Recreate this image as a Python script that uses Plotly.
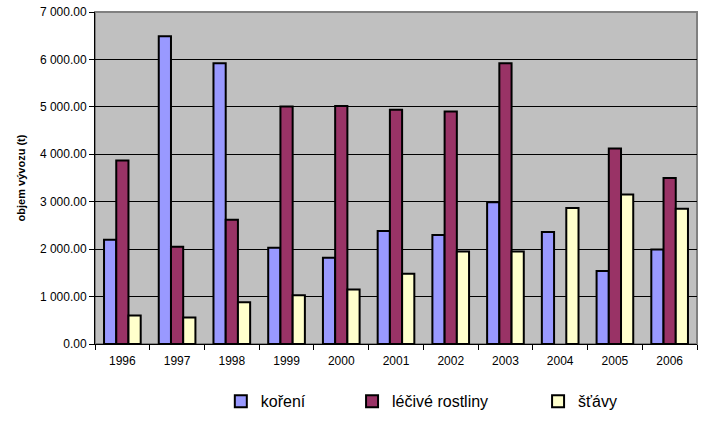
import plotly.graph_objects as go

# data
roky = ['1996', '1997', '1998', '1999', '2000', '2001', '2002', '2003', '2004', '2005', '2006']
koreni = [2200, 6490, 5920, 2030, 1820, 2380, 2300, 2990, 2360, 1540, 1990]
lecive_rostliny = [3870, 2050, 2620, 5010, 5020, 4940, 4900, 5920, None, 4120, 3500]
stavy = [600, 560, 880, 1030, 1150, 1480, 1950, 1950, 2870, 3150, 2850]

serie = [
    ('koření', koreni, '#9999FF', 'legend', 0.209),
    ('léčivé rostliny', lecive_rostliny, '#993366', 'legend2', 0.427),
    ('šťávy', stavy, '#FFFFCC', 'legend3', 0.736),
]

fig = go.Figure()
legends = {}
for name, vals, color, leg, lx in serie:
    fig.add_trace(go.Bar(
        x=roky, y=vals, name=name, legend=leg,
        marker=dict(color=color, line=dict(color='black', width=2)),
    ))
    legends[leg] = dict(
        x=lx, xanchor='left', y=-0.1725, yanchor='middle',
        font=dict(size=16), bgcolor='rgba(0,0,0,0)',
    )

fig.update_layout(
    width=703, height=424,
    margin=dict(l=95, r=6, t=12, b=70),
    paper_bgcolor='white',
    plot_bgcolor='#C0C0C0',
    barmode='group',
    bargap=0.33,
    bargroupgap=0,
    separators='. ',
    font=dict(family='Liberation Sans, Arial, sans-serif', size=12, color='black'),
    showlegend=True,
    **legends,
)

fig.update_yaxes(
    range=[0, 7000], dtick=1000, tickformat=',.2f',
    showgrid=True, gridcolor='black', gridwidth=1,
    ticks='outside', ticklen=5, tickcolor='black',
    showline=True, linecolor='black', linewidth=1,
    zeroline=False, automargin=False,
    title=dict(text='<b>objem vývozu (t)</b>', font=dict(size=11), standoff=12),
)
fig.update_xaxes(
    type='category', tickson='boundaries',
    ticks='outside', ticklen=5, tickcolor='black',
    ticklabelstandoff=6,
    showline=True, linecolor='black', linewidth=1,
    showgrid=False, automargin=False,
)

# grey frame of the plot area
fig.add_shape(type='rect', xref='paper', yref='paper', x0=0, y0=0, x1=1, y1=1,
              line=dict(color='#808080', width=2), layer='below')

# page fits the figure exactly: no default body margin
page_js = """
document.documentElement.style.margin = '0';
document.documentElement.style.overflow = 'hidden';
document.body.style.margin = '0';
document.body.style.overflow = 'hidden';
"""
fig.write_html('out.html', config={'displayModeBar': False}, post_script=page_js)
